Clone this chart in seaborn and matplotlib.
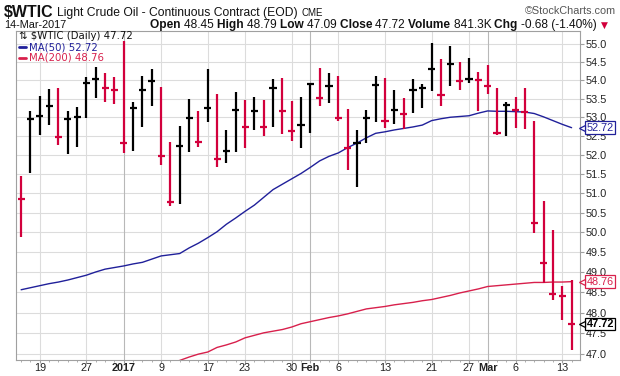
import numpy as np
import pandas as pd
import matplotlib
matplotlib.use('Agg')
import matplotlib.pyplot as plt
import matplotlib.ticker as mticker
import matplotlib.transforms as mtransforms
import seaborn as sns

# --- Chart data: $WTIC daily bars ---
holidays = ['2016-12-26', '2017-01-02', '2017-01-16', '2017-02-20']
trade_dates = pd.bdate_range('2016-12-15', '2017-03-14').drop(pd.to_datetime(holidays))
prev_close = 51.04

highs = [51.45, 53.16, 53.58, 53.77, 53.80, 53.17, 53.27, 54.08, 54.36, 54.20,
         54.09, 55.09, 53.42, 54.12, 54.31, 53.83, 52.35, 52.76, 53.50, 53.16,
         54.31, 53.62, 52.66, 53.69, 53.47, 53.54, 53.47, 54.04, 54.07, 53.44,
         53.54, 53.92, 54.35, 54.20, 54.13, 53.22, 52.66, 53.20, 54.12, 54.06,
         53.75, 53.51, 54.03, 53.89, 55.03, 54.58, 54.95, 54.50, 54.61, 54.22,
         54.42, 53.78, 53.40, 53.54, 53.78, 52.90, 50.80, 50.05, 48.64, 48.79]
lows = [49.88, 51.53, 52.53, 52.80, 52.25, 52.03, 52.21, 52.99, 53.53, 53.42,
        53.37, 52.05, 52.10, 52.75, 53.29, 51.72, 50.67, 50.71, 52.08, 52.21,
        52.86, 51.67, 51.78, 52.08, 52.17, 52.66, 52.51, 52.75, 52.55, 52.37,
        52.19, 52.59, 53.31, 53.38, 52.91, 51.59, 51.16, 52.32, 52.86, 52.72,
        52.82, 52.68, 53.11, 53.26, 53.71, 53.31, 53.84, 53.75, 53.92, 53.16,
        53.62, 52.52, 52.51, 52.72, 52.68, 49.99, 48.72, 48.31, 47.82, 47.09]
closes = [50.86, 52.94, 53.04, 53.29, 52.48, 52.94, 53.01, 53.92, 54.04, 53.79,
          53.73, 52.32, 53.26, 53.75, 53.99, 51.96, 50.78, 52.24, 52.99, 52.34,
          53.26, 51.89, 52.11, 53.20, 52.75, 53.18, 52.75, 53.78, 53.16, 52.63,
          52.80, 53.89, 53.53, 53.84, 52.99, 52.17, 52.30, 52.99, 53.87, 52.91,
          53.20, 53.09, 53.75, 53.78, 54.31, 53.59, 54.45, 53.99, 54.04, 54.01,
          53.84, 52.57, 53.33, 53.20, 53.13, 50.24, 49.23, 48.45, 48.40, 47.72]
ma50 = [48.56, 48.61, 48.66, 48.71, 48.75, 48.80, 48.86, 48.92, 49.00, 49.07,
        49.11, 49.15, 49.20, 49.24, 49.32, 49.40, 49.43, 49.46, 49.60, 49.72,
        49.86, 50.01, 50.20, 50.36, 50.53, 50.69, 50.89, 51.09, 51.23, 51.37,
        51.51, 51.67, 51.84, 51.96, 52.05, 52.19, 52.31, 52.45, 52.57, 52.61,
        52.66, 52.70, 52.74, 52.79, 52.91, 52.96, 53.00, 53.02, 53.04, 53.11,
        53.17, 53.16, 53.16, 53.15, 53.14, 53.10, 53.01, 52.91, 52.81, 52.72]
ma200 = [np.nan] * 16 + [
    46.78, 46.85, 46.93, 47.00, 47.05, 47.16, 47.22, 47.29, 47.39, 47.45,
    47.51, 47.55, 47.59, 47.65, 47.73, 47.78, 47.83, 47.88, 47.92, 47.97,
    48.03, 48.09, 48.12, 48.15, 48.19, 48.22, 48.25, 48.29, 48.32, 48.37,
    48.42, 48.48, 48.53, 48.58, 48.64, 48.66, 48.68, 48.70, 48.72, 48.74,
    48.74, 48.75, 48.75, 48.76]

tick_dates = ['2016-12-19', '2016-12-27', '2017-01-03', '2017-01-09', '2017-01-17',
              '2017-01-23', '2017-01-30', '2017-02-01', '2017-02-06', '2017-02-13',
              '2017-02-21', '2017-02-27', '2017-03-01', '2017-03-06', '2017-03-13']
tick_labels = ['19', '27', '2017', '9', '17', '23', '30', 'Feb', '6', '13',
               '21', '27', 'Mar', '6', '13']
month_labels = ['2017', 'Feb', 'Mar']
y_ticks = [47.0, 47.5, 48.0, 48.5, 49.0, 49.5, 50.0, 50.5, 51.0, 51.5,
           52.0, 52.5, 53.0, 53.5, 54.0, 54.5, 55.0]

quote = [('Open', '48.45'), ('High', '48.79'), ('Low', '47.09'), ('Close', '47.72'),
         ('Volume', '841.3K'), ('Chg', '-0.68 (-1.40%)')]
last_close, last_ma50, last_ma200 = 47.72, 52.72, 48.76

# --- Styling ---
UP, DOWN = '#000000', '#d2003c'
MA50_C, MA200_C = '#20209a', '#d8204c'
GRID, FRAME = '#dcdcdc', '#a0a0a0'
W, H = 620, 376

sns.set_theme(style='white')
plt.rcParams['font.family'] = ['Liberation Sans', 'DejaVu Sans']

df = pd.DataFrame({'date': trade_dates, 'high': highs, 'low': lows,
                   'close': closes, 'ma50': ma50, 'ma200': ma200})
df['idx'] = np.arange(len(df))
df['up'] = df['close'].diff().fillna(df['close'].iloc[0] - prev_close) >= 0

fig = plt.figure(figsize=(W / 100, H / 100), dpi=100)
ax = fig.add_axes([16 / W, 16 / H, 564 / W, 329 / H])
ax.set_yscale('log')

# gridlines
for y in y_ticks:
    ax.axhline(y, color=GRID, lw=0.8, zorder=0)
tick_pos = trade_dates.get_indexer(pd.to_datetime(tick_dates))
for p, lab in zip(tick_pos, tick_labels):
    ax.axvline(p, color='#b8b8b8' if lab in month_labels else GRID, lw=0.8, zorder=0)

# moving averages
sns.lineplot(data=df, x='idx', y='ma50', color=MA50_C, lw=1.0, ax=ax, zorder=2)
sns.lineplot(data=df, x='idx', y='ma200', color=MA200_C, lw=1.0, ax=ax, zorder=2)

# HLC bars with a cross at the close
colors = np.where(df['up'], UP, DOWN)
ax.vlines(df['idx'], df['low'], df['high'], colors=colors, lw=1.6, zorder=3)
ax.hlines(df['close'], df['idx'] - 0.38, df['idx'] + 0.38, colors=colors, lw=1.6, zorder=3)

ax.set_xlim(-0.55, 59.9)
ax.set_ylim(46.86, 55.37)
ax.set_xlabel('')
ax.set_ylabel('')

ax.yaxis.tick_right()
ax.yaxis.set_major_locator(mticker.FixedLocator(y_ticks))
ax.yaxis.set_major_formatter(mticker.FuncFormatter(lambda v, _: f'{v:.1f}'))
ax.yaxis.set_minor_locator(mticker.NullLocator())
ax.tick_params(axis='y', which='major', length=3, width=0.8, color=FRAME,
               pad=1, labelsize=7.8, labelcolor='#222222', right=True, left=False)

ax.set_xticks(tick_pos)
ax.set_xticklabels(tick_labels)
ax.set_xticks(df['idx'], minor=True)
ax.tick_params(axis='x', which='major', length=2, width=0.8, color=FRAME,
               pad=0, labelsize=7.8, labelcolor='#222222', bottom=True)
ax.tick_params(axis='x', which='minor', length=1.5, width=0.6, color=FRAME, bottom=True)
for t in ax.get_xticklabels():
    if t.get_text() in month_labels:
        t.set_fontweight('bold')

for s in ax.spines.values():
    s.set_color(FRAME)
    s.set_linewidth(0.8)

# value tags on the right axis
blend = mtransforms.blended_transform_factory(ax.transAxes, ax.transData)
for val, col, weight in [(last_ma50, MA50_C, 'normal'), (last_ma200, MA200_C, 'normal'),
                         (last_close, '#000000', 'bold')]:
    ax.text(1.012, val, f'{val:.2f}', transform=blend, va='center', ha='left',
            fontsize=7.8, fontweight=weight, color='#000000' if weight == 'bold' else col,
            bbox=dict(boxstyle='square,pad=0.12', fc='white', ec=col, lw=0.9),
            zorder=6, clip_on=False)
    ax.plot([1.004], [val], marker='<', ms=4.5, mfc='white', mec=col, mew=0.9,
            transform=blend, clip_on=False, zorder=7)


# --- Header text ---
def fx(px):
    return px / W


def fy(py):
    return 1 - py / H


def put_runs(x, y, runs, size):
    renderer = fig.canvas.get_renderer()
    for s, weight, color in runs:
        t = fig.text(fx(x), fy(y), s, fontsize=size, fontweight=weight,
                     color=color, va='baseline', ha='left', parse_math=False)
        x += t.get_window_extent(renderer).width
    return x


x = put_runs(4, 17, [('$WTIC', 'bold', '#111111')], 11.5)
x = put_runs(x + 3, 16, [('Light Crude Oil - Continuous Contract (EOD)', 'normal', '#111111')], 8.7)
put_runs(x + 4, 16, [('CME', 'normal', '#111111')], 7)
fig.text(fx(616), fy(14), '\u00a9StockCharts.com', fontsize=7.8, color='#555555',
         ha='right', va='baseline')
put_runs(4, 28, [('14-Mar-2017', 'normal', '#111111')], 7.8)

runs = []
for label, val in quote:
    runs.append((label + ' ', 'bold', '#111111'))
    runs.append((val + ' ', 'normal', '#111111'))
x = put_runs(150, 28, runs, 8.6)
fig.text(fx(x + 1), fy(28), '\u25bc', fontsize=6.5, color=DOWN, va='baseline',
         family=['DejaVu Sans'])

# in-chart legend
fig.text(fx(19), fy(39), '\u21c5 $WTIC (Daily) 47.72', fontsize=7.3, color='#111111',
         va='baseline', family=['DejaVu Sans'], parse_math=False)
for py, lab, col in [(50, 'MA(50) 52.72', MA50_C), (60.5, 'MA(200) 48.76', MA200_C)]:
    fig.lines.append(plt.Line2D([fx(19), fx(26)], [fy(py - 3), fy(py - 3)],
                                transform=fig.transFigure, color=col, lw=2))
    fig.text(fx(29), fy(py), lab, fontsize=7.3, color=col, va='baseline',
             family=['DejaVu Sans'])

fig.savefig('out.png', dpi=100)
